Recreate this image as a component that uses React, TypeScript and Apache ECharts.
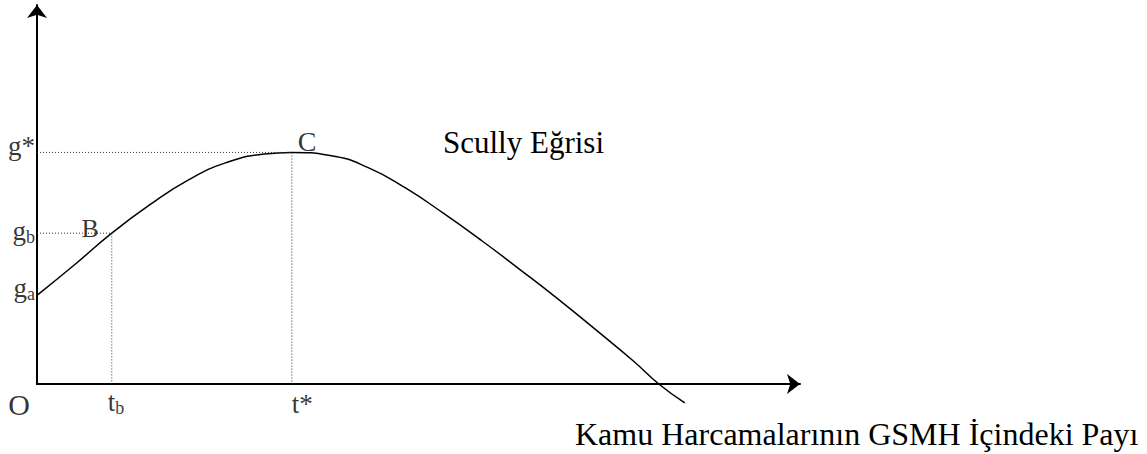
import React, { useEffect, useRef } from "react";
import * as echarts from "echarts";

// Scully curve (x: share of public spending, y: growth)
const curveX = [0, 5.0, 9.8, 14.8, 19.8, 24.8, 29.8, 33.4, 38.4, 43.4, 48.4, 53.3, 58.3, 63.3, 68.3, 73.3, 78.2, 81.5, 84.9];
const curveY = [23.4, 31.6, 39.8, 47.3, 53.8, 58.4, 60.7, 61.1, 60.3, 57.1, 51.6, 45.0, 37.8, 30.2, 22.4, 14.2, 6.0, 0, -5.0];

// marked points
const pointB = [9.8, 39.8];
const pointC = [33.4, 61.1];
const gA = 23.4;

const curveName = "Scully Eğrisi";
const axisTitle = "Kamu Harcamalarının GSMH İçindeki Payı";

const FONT = "'Liberation Serif', 'Times New Roman', serif";

export default function App() {
  const ref = useRef<HTMLDivElement>(null);

  useEffect(() => {
    if (!ref.current) return;
    const chart = echarts.init(ref.current, null, { renderer: "svg" });

    const curveData = curveX.map((x, i) => [x, curveY[i]]);

    const rich = {
      m: { fontSize: 27, fontFamily: FONT, color: "#000" },
      s: { fontSize: 18, fontFamily: FONT, color: "#000", padding: [12, 0, 0, 0] },
    };

    const lbl = (
      value: number[],
      text: string,
      pos: number[],
      align: string,
      fontSize = 27
    ) => ({
      value,
      label: {
        show: true,
        formatter: text,
        position: pos,
        align,
        verticalAlign: "middle",
        fontSize,
        fontFamily: FONT,
        color: "#000",
        rich,
      },
    });

    const labels = [
      lbl([0, pointC[1]], "{m|g*}", [-2, -6], "right"),
      lbl([0, pointB[1]], "{m|g}{s|b}", [-2, -2], "right"),
      lbl([0, gA], "{m|g}{s|a}", [-2, -7], "right"),
      lbl([0, 0], "O", [-18, 20], "center", 30),
      lbl([pointB[0], 0], "{m|t}{s|b}", [-4, 18], "left"),
      lbl([pointC[0], 0], "{m|t*}", [0, 20], "left", 28),
      lbl(pointC, "C", [6, -11], "left", 28),
      lbl(pointB, "B", [-13, -5], "right", 26),
    ];

    const guide = {
      type: "line",
      symbol: "none",
      silent: true,
      lineStyle: { color: "#333", width: 1, type: [1, 2] },
    };

    chart.setOption({
      animation: false,
      backgroundColor: "#fff",
      title: [
        {
          text: curveName,
          left: 438,
          top: 122,
          textStyle: { fontSize: 31, fontWeight: "normal", fontFamily: FONT, color: "#000" },
        },
        {
          text: axisTitle,
          left: 570,
          top: 413,
          textStyle: { fontSize: 32, fontWeight: "normal", fontFamily: FONT, color: "#000" },
        },
      ],
      grid: { left: 37, top: 5, width: 763, height: 379, containLabel: false },
      xAxis: {
        type: "value",
        min: 0,
        max: 100,
        axisLine: {
          show: true,
          symbol: ["none", "arrow"],
          symbolSize: [15, 13],
          lineStyle: { color: "#000", width: 2 },
        },
        axisTick: { show: false },
        axisLabel: { show: false },
        splitLine: { show: false },
      },
      yAxis: {
        type: "value",
        min: 0,
        max: 100,
        axisLine: {
          show: true,
          symbol: ["none", "arrow"],
          symbolSize: [15, 13],
          lineStyle: { color: "#000", width: 2 },
        },
        axisTick: { show: false },
        axisLabel: { show: false },
        splitLine: { show: false },
      },
      series: [
        {
          name: curveName,
          type: "line",
          data: curveData,
          smooth: true,
          symbol: "none",
          clip: false,
          lineStyle: { color: "#000", width: 1.5 },
        },
        { ...guide, data: [[0, pointC[1]], pointC, [pointC[0], 0]] },
        { ...guide, data: [[0, pointB[1]], pointB, [pointB[0], 0]] },
        {
          type: "scatter",
          symbolSize: 0,
          silent: true,
          clip: false,
          data: labels,
        },
      ],
    });

    return () => chart.dispose();
  }, []);

  return (
    <div
      ref={ref}
      style={{ position: "fixed", left: 0, top: 0, width: 1147, height: 454, background: "#fff" }}
    />
  );
}
